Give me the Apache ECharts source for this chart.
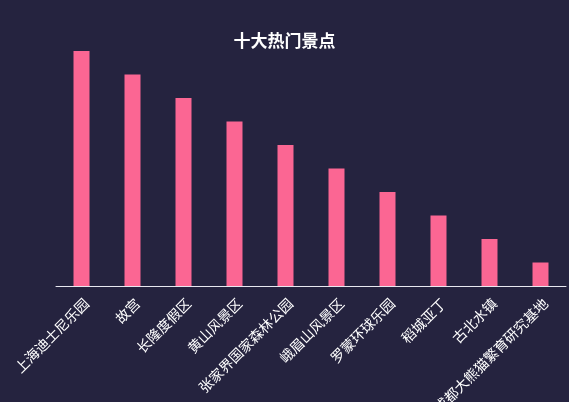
<!DOCTYPE html>
<html>
<head>
<meta charset="utf-8">
<script src="https://cdn.jsdelivr.net/npm/echarts@6/dist/echarts.min.js"></script>
<style>
  html, body { margin: 0; padding: 0; background: #25233f; }
  #chart { width: 569px; height: 402px; }
</style>
</head>
<body>
<div id="chart"></div>
<script>
// Top ten scenic spots, ranked
const spots = ['上海迪士尼乐园', '故宫', '长隆度假区', '黄山风景区', '张家界国家森林公园',
  '峨眉山风景区', '罗蒙环球乐园', '稻城亚丁', '古北水镇', '成都大熊猫繁育研究基地'];
const heat = [10, 9, 8, 7, 6, 5, 4, 3, 2, 1];

const chart = echarts.init(document.getElementById('chart'));
chart.setOption({
  backgroundColor: '#25233f',
  title: {
    text: '十大热门景点',
    left: 'center',
    top: 27,
    textStyle: { color: '#ffffff', fontSize: 17, fontWeight: 'bold', fontFamily: 'Noto Sans CJK SC' }
  },
  grid: { left: 56, right: 3, top: 51, bottom: 116, containLabel: false, outerBoundsMode: 'none' },
  xAxis: {
    type: 'category',
    data: spots,
    axisLine: { lineStyle: { color: '#e8e8f0', width: 1 } },
    axisTick: { show: false },
    axisLabel: {
      rotate: 45,
      interval: 0,
      color: '#ffffff',
      fontSize: 14,
      margin: 10,
      verticalAlign: 'top',
      fontFamily: 'Noto Sans CJK SC'
    }
  },
  yAxis: {
    type: 'value',
    min: 0,
    max: 10,
    show: false
  },
  series: [{
    type: 'bar',
    data: heat,
    barWidth: 16,
    itemStyle: { color: '#fb6693' }
  }]
});
</script>
</body>
</html>
